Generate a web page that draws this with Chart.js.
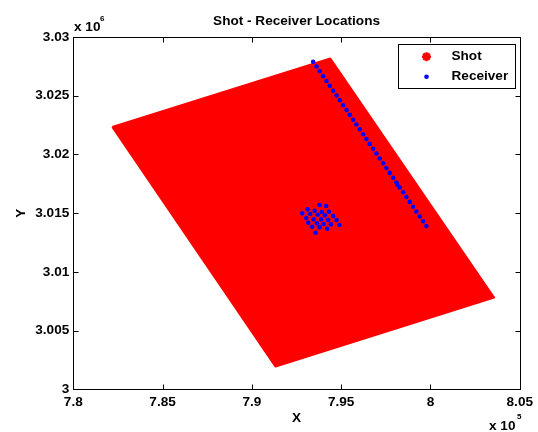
<!DOCTYPE html>
<html><head><meta charset="utf-8">
<script src="https://cdn.jsdelivr.net/npm/chart.js@4/dist/chart.umd.min.js"></script>
<style>html,body{margin:0;padding:0;background:#fff}</style>
</head><body>
<canvas id="c" width="538" height="432"></canvas>
<script>
// ---- data ----
const xTickLabels = ['7.8', '7.85', '7.9', '7.95', '8', '8.05'];
const yTickLabels = ['3', '3.005', '3.01', '3.015', '3.02', '3.025', '3.03'];

// shot area outline (corners of the dense shot grid)
const shotX = [782185, 794392, 803561, 791326, 782185];
const shotY = [3022334, 3028169, 3007811, 3001933, 3022334];

// receivers along the line
const lineRecX = [793430, 793620, 793800, 793990, 794180, 794360, 794550, 794740, 794920, 795110,
                  795300, 795480, 795670, 795850, 796040, 796230, 796410, 796600, 796790, 796970,
                  797160, 797350, 797530, 797720, 797910, 798090, 798140, 798280, 798470, 798650,
                  798840, 799020, 799210, 799400, 799580, 799770];
const lineRecY = [3027900, 3027490, 3027080, 3026660, 3026250, 3025840, 3025430, 3025020, 3024610, 3024190,
                  3023780, 3023370, 3022960, 3022550, 3022140, 3021720, 3021310, 3020900, 3020490, 3020080,
                  3019660, 3019250, 3018840, 3018430, 3018020, 3017610, 3017420, 3017190, 3016780, 3016370,
                  3015960, 3015550, 3015140, 3014720, 3014310, 3013900];

// receivers in the small patch
const clusterRecX = [793790, 794158,
                     793121, 793511, 793918, 794308,
                     792820, 793266, 793679, 794086, 794548,
                     793043, 793456, 793879, 794269, 794738,
                     793155, 793640, 794013, 794420, 794905,
                     793378, 793790, 794214,
                     793567];
const clusterRecY = [3015690, 3015605,
                     3015323, 3015204, 3015093, 3015119,
                     3014983, 3014923, 3014863, 3014812, 3014753,
                     3014582, 3014472, 3014472, 3014412, 3014412,
                     3014182, 3014131, 3014071, 3014046, 3013986,
                     3013841, 3013790, 3013671,
                     3013330];

const toPts = (xs, ys) => xs.map((v, i) => ({x: v, y: ys[i]}));
const shotPts = toPts(shotX, shotY);
const recPts = toPts(lineRecX, lineRecY).concat(toPts(clusterRecX, clusterRecY));

const FONT = '"Liberation Sans", Arial, Helvetica, sans-serif';
const FS = 13.6;

const decorPlugin = {
  id: 'decor',
  afterDatasetsDraw(chart) {
    const {ctx, chartArea: a, scales: {x, y}} = chart;
    ctx.save();
    ctx.strokeStyle = '#000';
    ctx.lineWidth = 1;
    const L = Math.round(a.left) + 0.5, T = Math.round(a.top) + 0.5;
    const R = Math.round(a.right) + 0.5, B = Math.round(a.bottom) + 0.5;
    ctx.strokeRect(L, T, R - L, B - T);
    ctx.beginPath();
    x.ticks.forEach(t => {
      const px = Math.round(x.getPixelForValue(t.value)) + 0.5;
      ctx.moveTo(px, B); ctx.lineTo(px, B - 5);
      ctx.moveTo(px, T); ctx.lineTo(px, T + 5);
    });
    y.ticks.forEach(t => {
      const py = Math.round(y.getPixelForValue(t.value)) + 0.5;
      ctx.moveTo(L, py); ctx.lineTo(L + 5, py);
      ctx.moveTo(R, py); ctx.lineTo(R - 5, py);
    });
    ctx.stroke();

    // exponent notes
    ctx.fillStyle = '#000';
    ctx.textBaseline = 'middle';
    ctx.textAlign = 'left';
    ctx.font = 'bold ' + FS + 'px ' + FONT;
    ctx.fillText('x 10', 74, 27);
    ctx.fillText('x 10', 489, 426);
    ctx.font = 'bold 8px ' + FONT;
    ctx.fillText('6', 100, 19);
    ctx.fillText('5', 517, 417);

    // legend
    const ds = chart.data.datasets;
    ctx.fillStyle = '#fff';
    ctx.fillRect(398.5, 44.5, 117, 44);
    ctx.strokeStyle = '#000';
    ctx.strokeRect(398.5, 44.5, 117, 44);
    const rows = [56.7, 76.7];
    // shot marker: asterisk
    ctx.strokeStyle = ds[0].backgroundColor;
    ctx.lineWidth = 2.5;
    ctx.beginPath();
    const mx = 426.5, my = rows[0], r = 4.5;
    ctx.moveTo(mx - r, my); ctx.lineTo(mx + r, my);
    ctx.moveTo(mx, my - r); ctx.lineTo(mx, my + r);
    ctx.moveTo(mx - 3.2, my - 3.2); ctx.lineTo(mx + 3.2, my + 3.2);
    ctx.moveTo(mx - 3.2, my + 3.2); ctx.lineTo(mx + 3.2, my - 3.2);
    ctx.stroke();
    // receiver marker
    ctx.fillStyle = ds[1].pointBackgroundColor;
    ctx.beginPath();
    ctx.arc(mx, rows[1], 2.3, 0, Math.PI * 2);
    ctx.fill();
    ctx.fillStyle = '#000';
    ctx.font = 'bold ' + FS + 'px ' + FONT;
    ctx.fillText(ds[0].label, 451.5, rows[0]);
    ctx.fillText(ds[1].label, 451.5, rows[1]);
    ctx.restore();
  }
};

new Chart(document.getElementById('c'), {
  type: 'scatter',
  data: {
    datasets: [
      {
        label: 'Shot',
        data: shotPts,
        showLine: true,
        fill: 'shape',
        borderColor: '#ff0000',
        backgroundColor: '#ff0000',
        borderWidth: 2,
        borderJoinStyle: 'round',
        pointRadius: 0,
        tension: 0,
        order: 2
      },
      {
        label: 'Receiver',
        data: recPts,
        showLine: false,
        pointRadius: 2.3,
        pointBorderWidth: 0,
        pointBackgroundColor: '#0000ff',
        pointBorderColor: '#0000ff',
        order: 1
      }
    ]
  },
  options: {
    responsive: false,
    animation: false,
    devicePixelRatio: 1,
    layout: {padding: {left: 0, right: 16, top: 0, bottom: 0}},
    plugins: {
      legend: {display: false},
      tooltip: {enabled: false},
      title: {
        display: true,
        fullSize: false,
        text: 'Shot - Receiver Locations',
        color: '#000',
        font: {family: FONT, size: FS, weight: 'bold'},
        padding: {top: 13.5, bottom: 7.2}
      }
    },
    scales: {
      x: {
        type: 'linear',
        min: 780000, max: 805000,
        afterFit(s) { s.height = 42.7; },
        border: {display: false},
        grid: {display: false, drawTicks: false},
        ticks: {
          stepSize: 5000, autoSkip: false, maxRotation: 0, padding: 5,
          color: '#000', font: {family: FONT, size: FS, weight: 'bold'},
          callback: (v, i) => xTickLabels[i]
        },
        title: {display: true, text: 'X', color: '#000',
                font: {family: FONT, size: FS, weight: 'bold'}, padding: {top: 0, bottom: 5.5}}
      },
      y: {
        type: 'linear',
        min: 3000000, max: 3030000,
        afterFit(s) { s.width = 73.3; },
        border: {display: false},
        grid: {display: false, drawTicks: false},
        ticks: {
          stepSize: 5000, autoSkip: false, padding: 4,
          color: '#000', font: {family: FONT, size: FS, weight: 'bold'},
          callback: (v, i) => yTickLabels[i]
        },
        title: {display: true, text: 'Y', color: '#000',
                font: {family: FONT, size: FS, weight: 'bold'}, padding: {top: 13, bottom: 0}}
      }
    }
  },
  plugins: [decorPlugin]
});
</script>
</body></html>
